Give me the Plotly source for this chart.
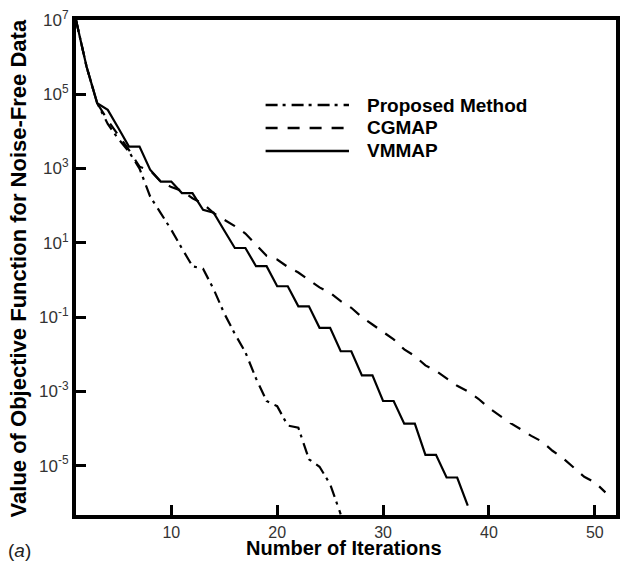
import numpy as np
import plotly.graph_objects as go

# ---------------- data (log10 of objective function) ----------------
iter_proposed = list(range(1, 27))
log_proposed = [7.0, 5.74, 4.76, 4.2, 3.8, 3.45, 3.0, 2.25, 1.8, 1.35,
                0.85, 0.37, 0.3, -0.25, -0.9, -1.45, -1.95, -2.65, -3.26, -3.4,
                -3.92, -3.98, -4.83, -5.03, -5.5, -6.31]

iter_cgmap = list(range(1, 52))
log_cgmap = [7.0, 5.74, 4.76, 4.3, 3.9, 3.5, 3.05, 2.95, 2.65, 2.5,
             2.4, 2.2, 2.05, 1.8, 1.62, 1.45, 1.25, 0.95, 0.65, 0.55,
             0.35, 0.2, 0.0, -0.2, -0.35, -0.57, -0.75, -1.0, -1.2, -1.4,
             -1.6, -1.87, -2.05, -2.3, -2.45, -2.65, -2.85, -3.0, -3.2, -3.45,
             -3.65, -3.85, -4.02, -4.2, -4.35, -4.6, -4.8, -5.05, -5.3, -5.45,
             -5.72]

iter_vmmap = list(range(1, 39))
log_vmmap = [7.0, 5.74, 4.76, 4.58, 4.09, 3.59, 3.59, 2.97, 2.65, 2.65,
             2.34, 2.34, 1.89, 1.81, 1.33, 0.86, 0.86, 0.37, 0.37, -0.17,
             -0.17, -0.71, -0.71, -1.29, -1.29, -1.92, -1.92, -2.57, -2.57, -3.26,
             -3.26, -3.87, -3.87, -4.71, -4.71, -5.32, -5.32, -6.08]

series_names = ["Proposed Method", "CGMAP", "VMMAP"]
x_ticks = [10, 20, 30, 40, 50]
y_tick_exps = [7, 5, 3, 1, -1, -3, -5]

# ---------------- figure ----------------
W, H = 623, 562
L, R, T, B = 76, 3, 20, 47

dash_styles = ["12px,5px,3px,6px", "12px,10px", "solid"]
series = [(iter_proposed, log_proposed), (iter_cgmap, log_cgmap), (iter_vmmap, log_vmmap)]

fig = go.Figure()
for (xs, ls), name, dash in zip(series, series_names, dash_styles):
    fig.add_trace(go.Scatter(
        x=xs, y=[10 ** v for v in ls], mode="lines", name=name,
        line=dict(color="black", width=2.2, dash=dash),
        showlegend=False,
    ))

xaxis_font = dict(family="Liberation Sans, Arial, sans-serif", size=16, color="#333")
yaxis_font = dict(family="Liberation Sans, Arial, sans-serif", size=17, color="#333")

fig.update_layout(
    width=W, height=H,
    margin=dict(l=L, r=R, t=T, b=B),
    paper_bgcolor="white", plot_bgcolor="white",
    font=dict(family="Liberation Sans, Arial, sans-serif", color="black"),
    xaxis=dict(
        range=[1, 52], tickvals=x_ticks, ticks="inside", ticklen=10, tickwidth=2.5,
        tickcolor="black", showline=True, linewidth=4, linecolor="black", mirror=True,
        showgrid=False, zeroline=False, tickfont=xaxis_font, ticklabelstandoff=0,
    ),
    yaxis=dict(
        type="log", range=[-6.33, 7], tickvals=[10.0 ** e for e in y_tick_exps],
        ticktext=[f"10<sup>{e}</sup>" for e in y_tick_exps],
        ticks="inside", ticklen=10, tickwidth=2.5, tickcolor="black",
        showline=True, linewidth=4, linecolor="black", mirror=True,
        showgrid=False, zeroline=False, tickfont=yaxis_font,
    ),
)

pw = W - L - R
ph = H - T - B
def px_x(p):
    return (p - L) / pw
def px_y(p):
    return 1 - (p - T) / ph

# axis titles
fig.add_annotation(text="<b>Number of Iterations</b>", xref="paper", yref="paper",
                   x=px_x(346), y=px_y(561), showarrow=False,
                   font=dict(size=20, color="black"), xanchor="center", yanchor="bottom")
fig.add_annotation(text="<b>Value of Objective Function for Noise-Free Data</b>",
                   xref="paper", yref="paper", x=px_x(18), y=px_y(268), textangle=-90,
                   showarrow=False, font=dict(size=22, color="black"),
                   xanchor="center", yanchor="middle")
fig.add_annotation(text="(<i>a</i>)", xref="paper", yref="paper",
                   x=px_x(5), y=px_y(550), showarrow=False,
                   font=dict(size=19, color="#222"), xanchor="left", yanchor="middle")

# legend (drawn manually)
leg_rows = [105, 128, 151]
for name, dash, yy in zip(series_names, dash_styles, leg_rows):
    fig.add_shape(type="line", xref="paper", yref="paper",
                  x0=px_x(267), x1=px_x(351), y0=px_y(yy), y1=px_y(yy),
                  line=dict(color="black", width=2.5, dash=dash))
    fig.add_annotation(text=f"<b>{name}</b>", xref="paper", yref="paper",
                       x=px_x(367), y=px_y(yy), showarrow=False,
                       font=dict(size=19, color="black"), xanchor="left", yanchor="middle")

fig.write_html("out.html")
